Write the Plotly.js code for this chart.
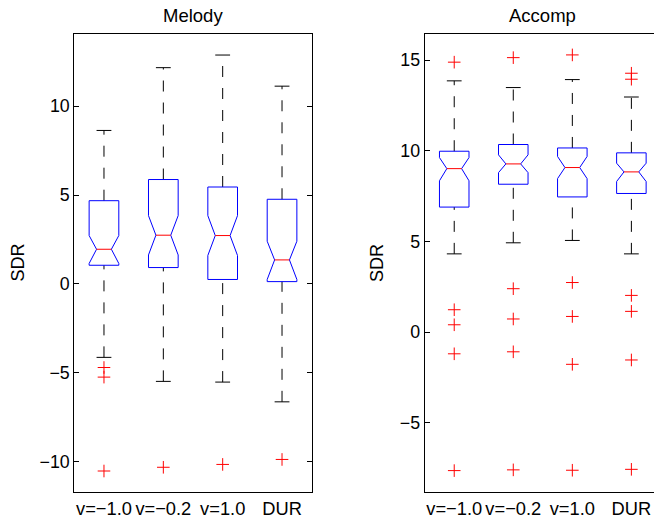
<!DOCTYPE html>
<html>
<head>
<meta charset="utf-8">
<script src="https://cdn.plot.ly/plotly-3.0.1.min.js"></script>
<style>
  html, body { margin: 0; padding: 0; overflow: hidden; background: #fff; }
  #chart { width: 680px; height: 519px; }
</style>
</head>
<body>
<div id="chart"></div>
<script>
// Group labels along the x axis
const groups = ['v=\u22121.0', 'v=\u22120.2', 'v=1.0', 'DUR'];

// Melody SDR summary statistics per group
const melodyQ3       = [4.68, 5.87, 5.45, 4.76];
const melodyMedian   = [1.95, 2.74, 2.72, 1.35];
const melodyQ1       = [1.05, 0.92, 0.25, 0.13];
const melodyNotchHi  = [2.72, 3.84, 3.84, 2.40];
const melodyNotchLo  = [1.15, 1.63, 1.60, 0.25];
const melodyWhiskHi  = [8.63, 12.16, 12.87, 11.12];
const melodyWhiskLo  = [-4.13, -5.48, -5.52, -6.63];
const melodyOutliers = [[-4.70, -5.24, -10.52], [-10.31], [-10.15], [-9.87]];

// Accompaniment SDR summary statistics per group
const accompQ3       = [9.97, 10.34, 10.15, 9.88];
const accompMedian   = [9.01, 9.27, 9.07, 8.83];
const accompQ1       = [6.89, 8.15, 7.45, 7.64];
const accompNotchHi  = [9.62, 9.77, 9.68, 9.31];
const accompNotchLo  = [8.34, 8.79, 8.46, 8.30];
const accompWhiskHi  = [13.85, 13.48, 13.92, 12.96];
const accompWhiskLo  = [4.31, 4.92, 5.05, 4.31];
const accompOutliers = [
  [14.88, 1.23, 0.40, -1.20, -7.64],
  [15.13, 2.39, 0.72, -1.09, -7.60],
  [15.28, 2.73, 0.86, -1.78, -7.62],
  [14.27, 13.94, 2.02, 1.14, -1.54, -7.57]
];

const W = 680, H = 519;
const BOX_HALF = 0.25;   // half box width in data units
const CAP_HALF = 0.125;  // half whisker-cap width
const FONT = 'Liberation Sans, Arial, Helvetica, sans-serif';

// Build the notched-box traces for one panel
function boxTraces(s, xa, ya) {
  const bx = [], by = [], mx = [], my = [], wx = [], wy = [], cx = [], cy = [], ox = [], oy = [];
  for (let i = 0; i < groups.length; i++) {
    const c = i + 1, w = BOX_HALF, n = BOX_HALF / 2;
    bx.push(c - w, c + w, c + w, c + n, c + w, c + w, c - w, c - w, c - n, c - w, c - w, null);
    by.push(s.q3[i], s.q3[i], s.nhi[i], s.med[i], s.nlo[i], s.q1[i], s.q1[i], s.nlo[i], s.med[i], s.nhi[i], s.q3[i], null);
    mx.push(c - n, c + n, null);
    my.push(s.med[i], s.med[i], null);
    wx.push(c, c, null, c, c, null);
    wy.push(s.wlo[i], s.q1[i], null, s.q3[i], s.whi[i], null);
    cx.push(c - CAP_HALF, c + CAP_HALF, null, c - CAP_HALF, c + CAP_HALF, null);
    cy.push(s.wlo[i], s.wlo[i], null, s.whi[i], s.whi[i], null);
    s.out[i].forEach(v => { ox.push(c); oy.push(v); });
  }
  const base = { type: 'scatter', mode: 'lines', xaxis: xa, yaxis: ya, hoverinfo: 'skip', showlegend: false };
  return [
    Object.assign({}, base, { x: wx, y: wy, line: { color: '#000', width: 1, dash: '11px,11px' } }),
    Object.assign({}, base, { x: cx, y: cy, line: { color: '#000', width: 1 } }),
    Object.assign({}, base, { x: bx, y: by, line: { color: '#0000ff', width: 1 } }),
    Object.assign({}, base, { x: mx, y: my, line: { color: '#ff0000', width: 1 } }),
    Object.assign({}, base, { x: ox, y: oy, mode: 'markers',
      marker: { symbol: 'cross-thin', size: 9, line: { color: '#ff0000', width: 1 } } })
  ];
}

const melody = { q3: melodyQ3, med: melodyMedian, q1: melodyQ1, nhi: melodyNotchHi, nlo: melodyNotchLo,
                 whi: melodyWhiskHi, wlo: melodyWhiskLo, out: melodyOutliers };
const accomp = { q3: accompQ3, med: accompMedian, q1: accompQ1, nhi: accompNotchHi, nlo: accompNotchLo,
                 whi: accompWhiskHi, wlo: accompWhiskLo, out: accompOutliers };

const data = boxTraces(melody, 'x', 'y').concat(boxTraces(accomp, 'x2', 'y2'));

const yDom = [(H - 492) / H, (H - 33.7) / H];
const xAxisBase = {
  range: [0.5, 4.5], tickvals: [1, 2, 3, 4], ticktext: groups, ticks: '',
  showline: true, mirror: true, linecolor: '#000', linewidth: 1, showgrid: false, zeroline: false,
  tickfont: { family: FONT, size: 18.3, color: '#000' }, fixedrange: true
};
const yAxisBase = {
  ticks: 'inside', ticklen: 5, tickcolor: '#000', tickwidth: 1,
  showline: true, mirror: 'ticks', linecolor: '#000', linewidth: 1, showgrid: false, zeroline: false,
  tickfont: { family: FONT, size: 17.8, color: '#000' }, tickmode: 'array', domain: yDom, fixedrange: true
};

const layout = {
  width: W, height: H,
  margin: { l: 0, r: 0, t: 0, b: 0 },
  paper_bgcolor: '#fff', plot_bgcolor: '#fff',
  xaxis: Object.assign({}, xAxisBase, { domain: [74.3 / W, 311.7 / W], anchor: 'y' }),
  yaxis: Object.assign({}, yAxisBase, { range: [-11.70, 14.07], tickvals: [-10, -5, 0, 5, 10],
                                        ticktext: ['\u221210', '\u22125', '0', '5', '10'], anchor: 'x' }),
  xaxis2: Object.assign({}, xAxisBase, { domain: [424.7 / W, 660.9 / W], anchor: 'y2' }),
  yaxis2: Object.assign({}, yAxisBase, { range: [-8.82, 16.45], tickvals: [-5, 0, 5, 10, 15],
                                         ticktext: ['\u22125', '0', '5', '10', '15'], anchor: 'x2' }),
  annotations: [
    { text: 'Melody', xref: 'x domain', x: 0.5, yref: 'paper', y: (H - 15) / H, xanchor: 'center', yanchor: 'middle',
      showarrow: false, font: { family: FONT, size: 18.5, color: '#000' } },
    { text: 'Accomp', xref: 'x2 domain', x: 0.5, yref: 'paper', y: (H - 15) / H, xanchor: 'center', yanchor: 'middle',
      showarrow: false, font: { family: FONT, size: 18.5, color: '#000' } },
    { text: 'SDR', xref: 'paper', x: 17.5 / W, yref: 'paper', y: (H - 263) / H, textangle: -90,
      xanchor: 'center', yanchor: 'middle', showarrow: false, font: { family: FONT, size: 18, color: '#000' } },
    { text: 'SDR', xref: 'paper', x: 377 / W, yref: 'paper', y: (H - 263) / H, textangle: -90,
      xanchor: 'center', yanchor: 'middle', showarrow: false, font: { family: FONT, size: 18, color: '#000' } }
  ]
};

Plotly.newPlot('chart', data, layout, { staticPlot: true, displayModeBar: false });
</script>
</body>
</html>
